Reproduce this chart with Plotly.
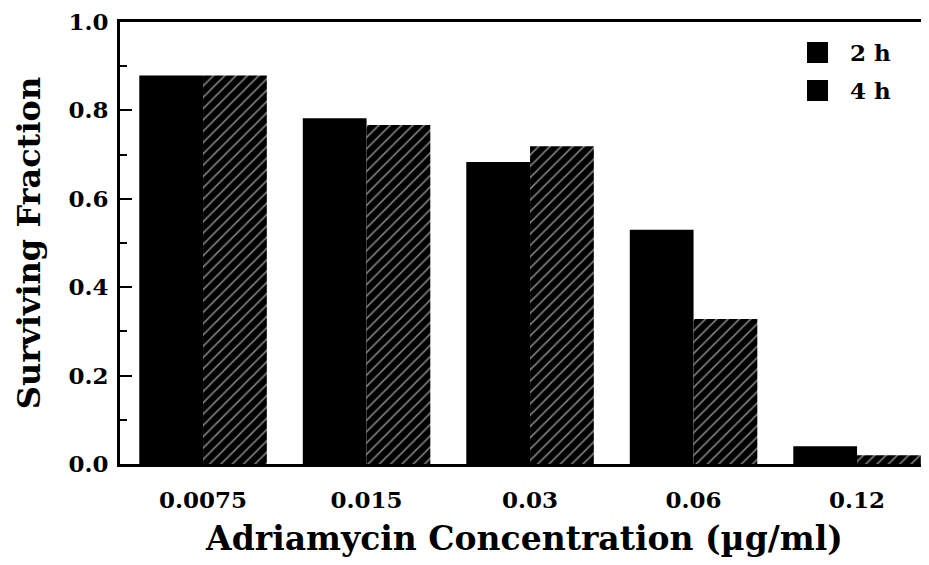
import plotly.graph_objects as go

categories = ["0.0075", "0.015", "0.03", "0.06", "0.12"]
surv_2h = [0.879, 0.782, 0.683, 0.530, 0.040]
surv_4h = [0.879, 0.767, 0.719, 0.328, 0.020]
series_names = ["2 h", "4 h"]
y_ticks = [0.0, 0.2, 0.4, 0.6, 0.8, 1.0]
y_ticklabels = ["0.0", "0.2", "0.4", "0.6", "0.8", "1.0"]

FONT = "DejaVu Serif"

# the page body has an 8px default margin; compensate so the photographed
# 929x565 window matches the reference layout
OFF = 8
W, H = 929 - OFF, 565 - OFF
L, R, T, B = 120 - OFF, 929 - OFF, 14, 464 - OFF

fig = go.Figure()
fig.add_trace(go.Bar(
    x=categories, y=surv_2h, name=series_names[0],
    marker=dict(color="black", line=dict(width=0)),
    showlegend=False,
))
fig.add_trace(go.Bar(
    x=categories, y=surv_4h, name=series_names[1],
    marker=dict(color="black", line=dict(width=0),
                pattern=dict(shape="/", fgcolor="white", bgcolor="black",
                             size=8, solidity=0.2)),
    showlegend=False,
))

def px(xp):
    return (xp - OFF - L) / (R - L)
def py(yp):
    return (B - (yp - OFF)) / (B - T)

# custom legend (large square swatches like the original)
for i, name in enumerate(series_names):
    top = 42 + i * 38
    fig.add_shape(type="rect", xref="paper", yref="paper",
                  x0=px(807), x1=px(828), y0=py(top + 21), y1=py(top),
                  fillcolor="black", line=dict(width=0))
    fig.add_annotation(xref="paper", yref="paper", x=px(848), y=py(top + 10.5),
                       text=f"<b>{name}</b>", showarrow=False,
                       xanchor="left", yanchor="middle",
                       font=dict(family=FONT, size=23, color="black"))

fig.update_layout(
    width=W, height=H,
    margin=dict(l=L, r=W - R, t=T, b=H - B, autoexpand=False),
    paper_bgcolor="white", plot_bgcolor="white",
    barmode="group", bargap=0.22, bargroupgap=0.0,
    font=dict(family=FONT, color="black"),
)
fig.update_xaxes(
    range=[-0.508, 4.44], automargin=False,
    showline=True, linecolor="black", linewidth=3, mirror=True,
    ticks="", showgrid=False, zeroline=False,
    tickfont=dict(family=FONT, size=23, color="black", weight="bold"),
    ticklabelstandoff=13, ticklabeloverflow="allow",
    title=dict(text="<b>Adriamycin Concentration (µg/ml)</b>",
               font=dict(family=FONT, size=33, color="black"), standoff=16),
)
fig.update_yaxes(
    range=[0, 1.0], automargin=False,
    tickvals=y_ticks, ticktext=y_ticklabels,
    showline=True, linecolor="black", linewidth=3,
    ticks="inside", ticklen=12, tickwidth=2, tickcolor="black",
    minor=dict(ticks="inside", ticklen=7, tickwidth=2, tickcolor="black", dtick=0.1),
    showgrid=False, zeroline=False,
    tickfont=dict(family=FONT, size=23, color="black", weight="bold"),
    ticklabelstandoff=4, ticklabeloverflow="allow",
    title=dict(text="<b>Surviving Fraction</b>",
               font=dict(family=FONT, size=32, color="black"), standoff=19),
)

fig.write_html("out.html")
